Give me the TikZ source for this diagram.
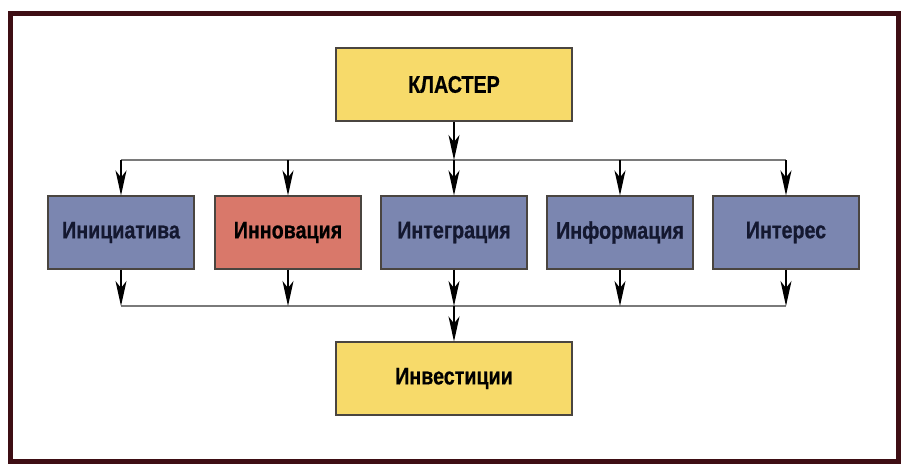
\documentclass[tikz,border=0pt]{standalone}
\usepackage{fontspec}
\setmainfont{Liberation Sans}[FakeStretch=0.82, BoldFeatures={FakeBold=0.6}]
\usetikzlibrary{arrows.meta}
\definecolor{framec}{HTML}{3E0E14}
\definecolor{yellowc}{HTML}{F7DA6A}
\definecolor{bluec}{HTML}{7B86B0}
\definecolor{redc}{HTML}{D9786A}
\definecolor{boxline}{HTML}{4A4540}
\definecolor{busc}{HTML}{7A7A7A}
\definecolor{navytext}{HTML}{141830}
\begin{document}
\begin{tikzpicture}[x=1pt,y=-1pt,
  box/.style={draw=boxline, line width=1.1pt, minimum width=146pt, minimum height=73pt, inner sep=0pt,
    font=\fontsize{24}{26}\selectfont\bfseries},
  bigbox/.style={box, minimum width=236pt, fill=yellowc, text=black},
  bluebox/.style={box, fill=bluec, text=navytext},
  redbox/.style={box, fill=redc, text=black},
  bus/.style={draw=busc, line width=2pt},
  arr/.style={draw=black, line width=1.3pt, -{Stealth[length=25pt, width=11pt, inset=7pt]}}
]
\useasboundingbox (0,0) rectangle (906,474);
\fill[white] (0,0) rectangle (906,474);
\draw[framec, line width=5pt] (10.5,13.5) rectangle (898.5,461);

\node[bigbox] (kl) at (454,84.5) {КЛАСТЕР};
\node[bluebox] (b1) at (121,232.5) {Инициатива};
\node[redbox]  (b2) at (288,232.5) {Инновация};
\node[bluebox] (b3) at (454,232.5) {Интеграция};
\node[bluebox] (b4) at (620,232.5) {Информация};
\node[bluebox] (b5) at (786,232.5) {Интерес};
\node[bigbox] (inv) at (454,378.5) {Инвестиции};

\coordinate (tl) at (121,160);
\coordinate (tr) at (786,160);
\coordinate (bl) at (121,306);
\coordinate (br) at (786,306);

\draw[bus] (tl) -- (tr);
\draw[bus] (bl) -- (br);

\draw[arr] (kl.south) -- (kl.south |- tl);
\foreach \n in {b1,b2,b3,b4,b5}{
  \draw[arr] (\n.north |- tl) -- (\n.north);
  \draw[arr] (\n.south) -- (\n.south |- bl);
}
\draw[arr] (inv.north |- bl) -- (inv.north);
\end{tikzpicture}
\end{document}
